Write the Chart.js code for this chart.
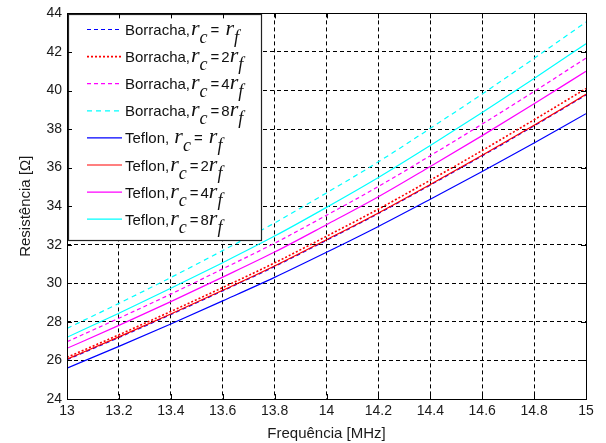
<!DOCTYPE html>
<html>
<head>
<meta charset="utf-8">
<script src="https://cdn.jsdelivr.net/npm/chart.js@4/dist/chart.umd.min.js"></script>
<style>
  html, body { margin: 0; padding: 0; background: #fff; }
  #wrap { width: 606px; height: 443px; }
</style>
</head>
<body>
<div id="wrap"><canvas id="myChart" width="606" height="443"></canvas></div>
<script>
// frequency axis (MHz)
const freqMHz = [13, 13.2, 13.4, 13.6, 13.8, 14, 14.2, 14.4, 14.6, 14.8, 15];

// resistance [ohm], rubber insulation (Borracha)
const borrachaR1 = [26.04, 27.19, 28.38, 29.61, 30.87, 32.23, 33.62, 35.10, 36.61, 38.17, 39.77];
const borrachaR2 = [26.16, 27.33, 28.54, 29.78, 31.06, 32.44, 33.85, 35.35, 36.89, 38.48, 40.10];
const borrachaR4 = [26.97, 28.19, 29.44, 30.75, 32.08, 33.53, 35.02, 36.62, 38.26, 39.95, 41.68];
const borrachaR8 = [27.66, 28.96, 30.30, 31.70, 33.13, 34.69, 36.30, 38.04, 39.82, 41.67, 43.55];

// resistance [ohm], teflon insulation
const teflonR1 = [25.60, 26.73, 27.89, 29.09, 30.31, 31.61, 32.95, 34.36, 35.80, 37.28, 38.80];
const teflonR2 = [26.07, 27.22, 28.41, 29.64, 30.90, 32.26, 33.65, 35.13, 36.64, 38.20, 39.80];
const teflonR4 = [26.63, 27.82, 29.05, 30.32, 31.62, 33.04, 34.49, 36.06, 37.66, 39.31, 41.00];
const teflonR8 = [27.20, 28.45, 29.74, 31.07, 32.45, 33.94, 35.49, 37.15, 38.86, 40.62, 42.43];

// legend text: material name and the rc = k·rf multiplier
const legendNames = ['Borracha,', 'Borracha,', 'Borracha,', 'Borracha,', 'Teflon, ', 'Teflon,', 'Teflon,', 'Teflon,'];
const legendFactors = ['', '2', '4', '8', '', '2', '4', '8'];

const yTickMin = 24, yTickMax = 44, yTickStep = 2;
const xTickMin = 13, xTickMax = 15, xTickStep = 0.2;

const SANS = '"Liberation Sans", Arial, sans-serif';
const SERIF = '"Liberation Serif", "Times New Roman", serif';

function toPoints(vals) {
    return freqMHz.map((f, i) => ({ x: f, y: vals[i] }));
}

function makeSet(label, vals, color, dash, width, order) {
    return {
        label: label,
        data: toPoints(vals),
        borderColor: color,
        backgroundColor: color,
        borderWidth: width,
        borderDash: dash,
        pointRadius: 0,
        cubicInterpolationMode: 'monotone',
        order: order
    };
}

// box round the axes + inward ticks on all four sides
const axesBox = {
    id: 'axesBox',
    afterDraw(chart) {
        const ctx = chart.ctx;
        const a = chart.chartArea;
        const xs = chart.scales.x, ys = chart.scales.y;
        ctx.save();
        ctx.strokeStyle = '#000';
        ctx.lineWidth = 1;
        ctx.setLineDash([]);
        ctx.beginPath();
        for (let v = yTickMin; v <= yTickMax + 1e-9; v += yTickStep) {
            const y = Math.round(ys.getPixelForValue(v)) + 0.5;
            ctx.moveTo(a.left, y); ctx.lineTo(a.left + 5, y);
            ctx.moveTo(a.right, y); ctx.lineTo(a.right - 5, y);
        }
        for (let i = 0; i <= Math.round((xTickMax - xTickMin) / xTickStep); i++) {
            const x = Math.round(xs.getPixelForValue(xTickMin + i * xTickStep)) + 0.5;
            ctx.moveTo(x, a.bottom); ctx.lineTo(x, a.bottom - 5);
            ctx.moveTo(x, a.top); ctx.lineTo(x, a.top + 5);
        }
        ctx.stroke();
        ctx.strokeRect(Math.round(a.left) + 0.5, Math.round(a.top) + 0.5,
            Math.round(a.right - a.left), Math.round(a.bottom - a.top));
        ctx.restore();
    }
};

// legend with subscripted r_c / r_f
const mathLegend = {
    id: 'mathLegend',
    afterDatasetsDraw(chart) {
        const ctx = chart.ctx;
        const sets = chart.data.datasets;
        const bx = 68.5, by = 14.5, bw = 193, bh = 226;
        ctx.save();
        ctx.fillStyle = '#fff';
        ctx.fillRect(bx, by, bw, bh);
        ctx.strokeStyle = '#222';
        ctx.lineWidth = 1.2;
        ctx.strokeRect(bx, by, bw, bh);

        for (let i = 0; i < sets.length; i++) {
            const ds = sets[i];
            const yMid = 29.5 + i * 27.1;
            const base = yMid + 5.5;

            ctx.beginPath();
            ctx.strokeStyle = ds.borderColor;
            ctx.lineWidth = ds.borderWidth;
            ctx.setLineDash(ds.borderDash);
            ctx.moveTo(87, yMid);
            ctx.lineTo(122, yMid);
            ctx.stroke();
            ctx.setLineDash([]);

            ctx.fillStyle = '#111';
            ctx.textBaseline = 'alphabetic';
            let x = 125;
            ctx.font = '15px ' + SANS;
            ctx.fillText(legendNames[i], x, base);
            x += ctx.measureText(legendNames[i]).width + 1;

            ctx.font = 'italic 22px ' + SERIF;
            ctx.fillText('r', x, base);
            x += ctx.measureText('r').width;
            ctx.font = 'italic 18px ' + SERIF;
            ctx.fillText('c', x, base + 8);
            x += ctx.measureText('c').width + 3;

            ctx.font = '15px ' + SANS;
            const eq = legendFactors[i] ? '=' : '= ';
            ctx.fillText(eq, x, base);
            x += ctx.measureText(eq).width + 2;
            if (legendFactors[i]) {
                ctx.fillText(legendFactors[i], x, base);
                x += ctx.measureText(legendFactors[i]).width;
            }
            ctx.font = 'italic 22px ' + SERIF;
            ctx.fillText('r', x, base);
            x += ctx.measureText('r').width;
            ctx.font = 'italic 18px ' + SERIF;
            ctx.fillText('f', x, base + 8);
        }
        ctx.restore();
    }
};

const data = {
    datasets: [
        makeSet('Borracha, rc = rf', borrachaR1, '#0000ff', [4, 3], 1.2, 2),
        makeSet('Borracha, rc = 2rf', borrachaR2, '#ff0000', [2, 2], 1.6, 2),
        makeSet('Borracha, rc = 4rf', borrachaR4, '#ff00ff', [4, 3], 1.2, 2),
        makeSet('Borracha, rc = 8rf', borrachaR8, '#00ffff', [5, 4], 1.2, 2),
        makeSet('Teflon, rc = rf', teflonR1, '#0000ff', [], 1.2, 1),
        makeSet('Teflon, rc = 2rf', teflonR2, '#ff0000', [], 1.2, 1),
        makeSet('Teflon, rc = 4rf', teflonR4, '#ff00ff', [], 1.2, 1),
        makeSet('Teflon, rc = 8rf', teflonR8, '#00ffff', [], 1.2, 1)
    ]
};

const config = {
    type: 'line',
    data: data,
    options: {
        responsive: false,
        animation: false,
        layout: { padding: { left: 0, top: 13, right: 20, bottom: 0 } },
        plugins: {
            legend: { display: false },
            tooltip: { enabled: false }
        },
        scales: {
            x: {
                type: 'linear',
                min: xTickMin,
                max: xTickMax,
                afterFit: (scale) => { scale.height = 44; },
                ticks: {
                    stepSize: xTickStep,
                    padding: 4,
                    color: '#1a1a1a',
                    font: { family: SANS, size: 14 },
                    maxRotation: 0,
                    callback: (v) => String(+v.toFixed(1))
                },
                grid: { color: '#000', lineWidth: 1, drawTicks: false },
                border: { display: false, dash: [4, 3] },
                title: {
                    display: true,
                    text: 'Frequência [MHz]',
                    color: '#1a1a1a',
                    font: { family: SANS, size: 15 },
                    padding: { top: 0, bottom: 0 }
                }
            },
            y: {
                min: yTickMin,
                max: yTickMax,
                afterFit: (scale) => { scale.width = 67; },
                ticks: {
                    stepSize: yTickStep,
                    padding: 5,
                    color: '#1a1a1a',
                    font: { family: SANS, size: 14 }
                },
                grid: { color: '#000', lineWidth: 1, drawTicks: false },
                border: { display: false, dash: [4, 3] },
                title: {
                    display: true,
                    text: 'Resistência [Ω]',
                    color: '#1a1a1a',
                    font: { family: SANS, size: 15 },
                    padding: { top: 17, bottom: 0 }
                }
            }
        }
    },
    plugins: [axesBox, mathLegend]
};

const myChart = new Chart(document.getElementById('myChart'), config);
</script>
</body>
</html>
